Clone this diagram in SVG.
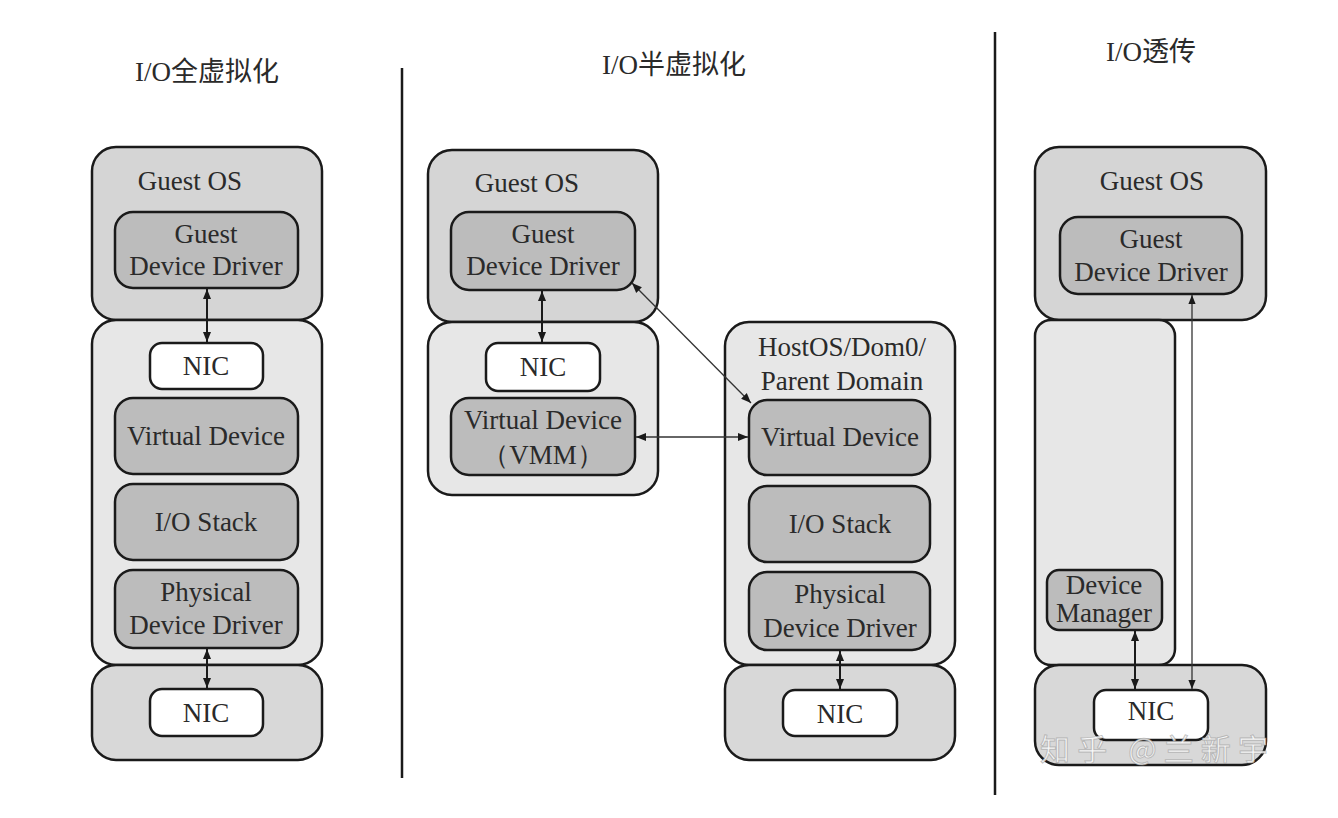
<svg xmlns="http://www.w3.org/2000/svg" width="1338" height="818" viewBox="0 0 1338 818">
<defs>
<marker id="ah" viewBox="0 0 10 10" refX="10" refY="5" markerWidth="10" markerHeight="10" markerUnits="userSpaceOnUse" orient="auto-start-reverse"><path d="M0,1 L10,5 L0,9 Z" fill="#1a1a1a"/></marker>
<marker id="ahs" viewBox="0 0 10 10" refX="10" refY="5" markerWidth="9" markerHeight="9" markerUnits="userSpaceOnUse" orient="auto-start-reverse"><path d="M0,1 L10,5 L0,9 Z" fill="#1a1a1a"/></marker>
</defs>
<style>
.os{fill:#d5d5d5;stroke:#1a1a1a;stroke-width:2.5}
.mid{fill:#e7e7e7;stroke:#1a1a1a;stroke-width:2.5}
.bot{fill:#d8d8d8;stroke:#1a1a1a;stroke-width:2.5}
.in{fill:#bcbcbc;stroke:#1a1a1a;stroke-width:2.5}
.nic{fill:#ffffff;stroke:#1a1a1a;stroke-width:2.5}
.t{font-family:"Liberation Serif",serif;font-size:27px;fill:#2a2a2a;text-anchor:middle}
.h{font-family:"Liberation Serif","Noto Sans CJK SC",serif;font-size:27px;fill:#2a2a2a;text-anchor:middle}
.c{stroke:#1a1a1a;stroke-width:2;fill:none}
.cs{stroke:#333;stroke-width:1.3;fill:none}
.div{stroke:#1a1a1a;stroke-width:2.5}
</style>
<rect width="1338" height="818" fill="#ffffff"/>
<text class="h" x="207" y="81">I/O全虚拟化</text>
<text class="h" x="674" y="74">I/O半虚拟化</text>
<text class="h" x="1151" y="61">I/O透传</text>
<line class="div" x1="402" y1="68" x2="402" y2="778"/>
<line class="div" x1="995" y1="32" x2="995" y2="795"/>

<g id="p1-guestos"><rect class="os" x="92" y="147" width="230" height="173" rx="24"/><text class="t" x="190" y="190">Guest OS</text></g>
<g id="p1-host"><rect class="mid" x="92" y="320" width="230" height="345" rx="24"/></g>
<g id="p1-hw"><rect class="bot" x="92" y="665" width="230" height="95" rx="24"/></g>
<g id="p1-gdd"><rect class="in" x="115" y="212" width="183" height="76" rx="18"/><text class="t" x="206" y="243">Guest</text><text class="t" x="206" y="275">Device Driver</text></g>
<g id="p1-nic1"><rect class="nic" x="150" y="343" width="113" height="46" rx="12"/><text class="t" x="206" y="375">NIC</text></g>
<g id="p1-vd"><rect class="in" x="115" y="398" width="183" height="76" rx="18"/><text class="t" x="206" y="445">Virtual Device</text></g>
<g id="p1-ios"><rect class="in" x="115" y="484" width="183" height="76" rx="18"/><text class="t" x="206" y="531">I/O Stack</text></g>
<g id="p1-pdd"><rect class="in" x="115" y="570" width="183" height="78" rx="18"/><text class="t" x="206" y="601">Physical</text><text class="t" x="206" y="634">Device Driver</text></g>
<g id="p1-nic2"><rect class="nic" x="150" y="689" width="113" height="47" rx="12"/><text class="t" x="206" y="722">NIC</text></g>

<g id="p2-guestos"><rect class="os" x="428" y="150" width="230" height="172" rx="24"/><text class="t" x="527" y="192">Guest OS</text></g>
<g id="p2-vmm"><rect class="mid" x="428" y="322" width="230" height="173" rx="24"/></g>
<g id="p2-gdd"><rect class="in" x="451" y="212" width="184" height="78" rx="18"/><text class="t" x="543" y="243">Guest</text><text class="t" x="543" y="275">Device Driver</text></g>
<g id="p2-nic"><rect class="nic" x="486" y="343" width="114" height="48" rx="12"/><text class="t" x="543" y="376">NIC</text></g>
<g id="p2-vd"><rect class="in" x="451" y="398" width="184" height="77" rx="18"/><text class="t" x="543" y="429">Virtual Device</text><text class="t" x="543" y="464">（VMM）</text></g>
<g id="p2-host"><rect class="mid" x="725" y="322" width="230" height="343" rx="24"/><text class="t" x="842" y="356">HostOS/Dom0/</text><text class="t" x="842" y="390">Parent Domain</text></g>
<g id="p2-hw"><rect class="bot" x="725" y="665" width="230" height="95" rx="24"/></g>
<g id="p2-vd2"><rect class="in" x="749" y="400" width="181" height="75" rx="18"/><text class="t" x="840" y="446">Virtual Device</text></g>
<g id="p2-ios"><rect class="in" x="749" y="486" width="181" height="76" rx="18"/><text class="t" x="840" y="533">I/O Stack</text></g>
<g id="p2-pdd"><rect class="in" x="749" y="572" width="181" height="78" rx="18"/><text class="t" x="840" y="603">Physical</text><text class="t" x="840" y="637">Device Driver</text></g>
<g id="p2-nic2"><rect class="nic" x="783" y="690" width="114" height="46" rx="12"/><text class="t" x="840" y="723">NIC</text></g>

<g id="p3-guestos"><rect class="os" x="1035" y="147" width="231" height="173" rx="24"/><text class="t" x="1152" y="190">Guest OS</text></g>
<g id="p3-vmm"><rect class="mid" x="1035" y="320" width="140" height="345" rx="16"/></g>
<g id="p3-hw"><rect class="bot" x="1035" y="665" width="231" height="100" rx="24"/></g>
<g id="p3-gdd"><rect class="in" x="1060" y="217" width="182" height="77" rx="18"/><text class="t" x="1151" y="248">Guest</text><text class="t" x="1151" y="281">Device Driver</text></g>
<g id="p3-dm"><rect class="in" x="1047" y="570" width="115" height="60" rx="12"/><text class="t" x="1104" y="594">Device</text><text class="t" x="1104" y="622">Manager</text></g>
<g id="p3-nic"><rect class="nic" x="1094" y="690" width="114" height="50" rx="12"/><text class="t" x="1151" y="720">NIC</text></g>

<g id="connectors">
<line class="c" x1="207" y1="289" x2="207" y2="342" marker-start="url(#ah)" marker-end="url(#ah)"/>
<line class="c" x1="207" y1="649" x2="207" y2="688" marker-start="url(#ah)" marker-end="url(#ah)"/>
<line class="c" x1="542" y1="291" x2="542" y2="342" marker-start="url(#ah)" marker-end="url(#ah)"/>
<line class="cs" x1="632" y1="283" x2="751" y2="403" marker-start="url(#ah)" marker-end="url(#ah)"/>
<line class="cs" x1="636" y1="437" x2="748" y2="437" marker-start="url(#ah)" marker-end="url(#ah)"/>
<line class="c" x1="840" y1="651" x2="840" y2="689" marker-start="url(#ah)" marker-end="url(#ah)"/>
<line class="c" x1="1135" y1="631" x2="1135" y2="689" marker-start="url(#ah)" marker-end="url(#ah)"/>
<line class="cs" x1="1192" y1="295" x2="1192" y2="689" marker-start="url(#ahs)" marker-end="url(#ahs)"/>
</g>
<text x="1040" y="760" font-family="'Noto Sans CJK SC',sans-serif" font-size="30" fill="#ffffff" fill-opacity="0.85" stroke="#888" stroke-opacity="0.5" stroke-width="1" textLength="228">知乎 @兰新宇</text>
</svg>
